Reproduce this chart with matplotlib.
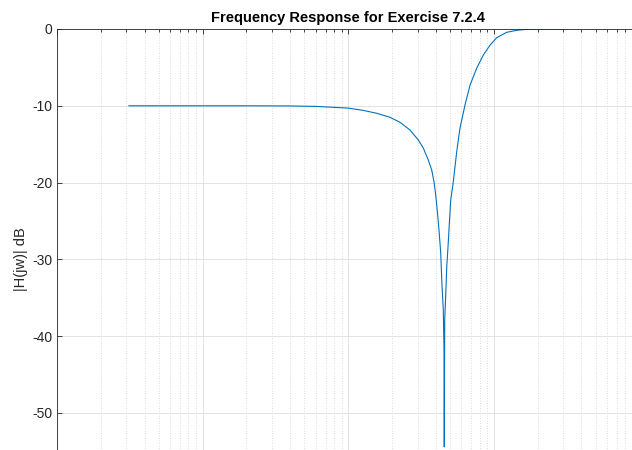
import matplotlib
matplotlib.use("Agg")
import matplotlib.pyplot as plt
from matplotlib.ticker import LogLocator, NullFormatter, FixedLocator

plt.rcParams['font.family'] = ['Liberation Sans', 'DejaVu Sans']

# frequency (rad/s) and magnitude (dB)
freq = [3.12, 9.6, 21.2, 39.8, 60.8, 79.0, 100.2, 127.0, 156.9, 193.7, 226.9,
        265.7, 302.9, 328.0, 354.9, 374.6, 388.4, 399.0, 405.3, 413, 422, 432,
        441, 450, 455, 457, 460, 468, 475, 485, 495, 506, 527, 556, 586, 634,
        687, 763, 847, 942, 1047, 1227, 1436, 1683, 2248, 3083]
mag_db = [-10.0, -10.0, -10.0, -10.02, -10.08, -10.2, -10.3, -10.6, -10.97,
          -11.5, -12.15, -13.15, -14.45, -15.5, -17.06, -18.36, -19.9, -21.6,
          -22.9, -24.5, -26.6, -29.2, -33.5, -36.6, -41.8, -54.4, -37.9, -34.4,
          -31.0, -28.3, -25.3, -22.3, -19.9, -16.0, -12.9, -9.9, -7.3, -5.1,
          -3.4, -2.1, -1.13, -0.43, -0.17, -0.04, -0.01, 0.0]
yticks = [-50, -40, -30, -20, -10, 0]
title = "Frequency Response for Exercise 7.2.4"
ylabel = "|H(jw)| dB"

W, H = 632, 450
fig = plt.figure(figsize=(W / 100, H / 100), dpi=100)
left, top = 57, 29
axw = 582.4
axh = 460.8
ax = fig.add_axes([left / W, (H - top - axh) / H, axw / W, axh / H])

ax.semilogx(freq, mag_db, color='#0072BD', lw=0.8)
ax.set_xlim(1, 1e4)
ax.set_ylim(-60, 0)

ax.yaxis.set_major_locator(FixedLocator(yticks))
ax.set_yticklabels([str(v) for v in yticks])
ax.xaxis.set_major_locator(LogLocator(base=10, numticks=10))
ax.xaxis.set_minor_locator(LogLocator(base=10, subs=range(2, 10), numticks=100))
ax.xaxis.set_minor_formatter(NullFormatter())

axc = '#262626'
for s in ax.spines.values():
    s.set_color(axc)
    s.set_linewidth(0.6)

ax.tick_params(which='both', direction='in', top=True, right=True,
               colors=axc, labelsize=10, width=0.6, labelbottom=False)
ax.tick_params(which='major', length=3.5)
ax.tick_params(which='minor', length=2.5)

ax.grid(True, which='major', color='#dedede', lw=0.6, ls='-')
ax.grid(True, which='minor', axis='x', color='#d0d0d0', lw=0.6, ls=(0, (1, 2)))
ax.set_axisbelow(True)

ax.set_title(title, fontsize=10.5, fontweight='bold', color='black', pad=5)
ax.set_ylabel(ylabel, fontsize=10.5, color=axc, labelpad=2.5)

fig.savefig('out.png', dpi=100)
